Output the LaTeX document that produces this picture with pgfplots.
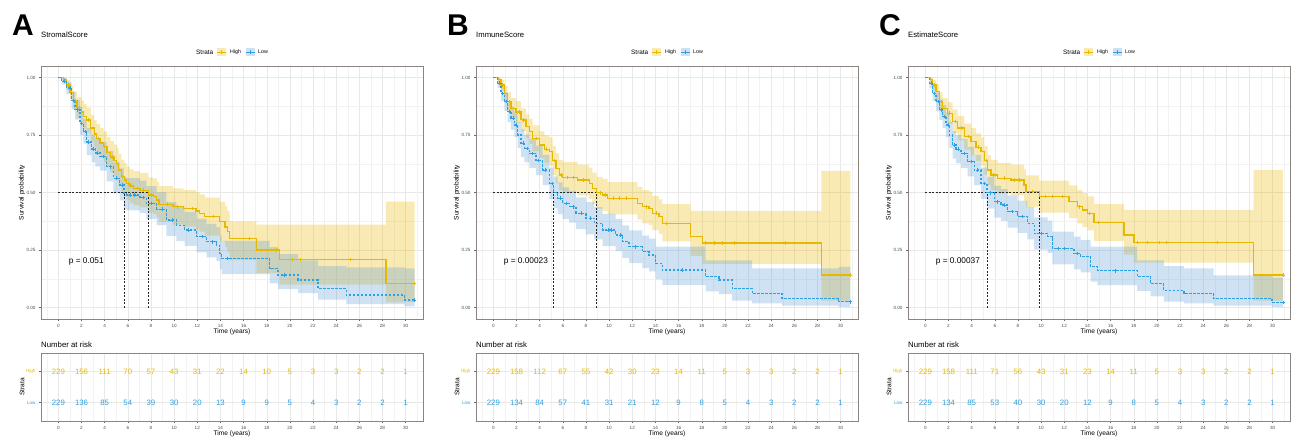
\documentclass[border=0pt]{standalone}
\usepackage{fontspec}
\setmainfont{Liberation Sans}
\usepackage{pgfplots}
\usepackage{pgfplotstable}
\pgfplotsset{compat=1.18}

\definecolor{cyellow}{HTML}{E7B800}
\definecolor{cblue}{HTML}{2E9FDF}
\definecolor{cbband}{RGB}{95,158,215}
\definecolor{framec}{HTML}{8C8480}

\pgfplotsset{
  kmbase/.style={
    scale only axis, width=382pt, anchor=south west,
    xmin=-1.5, xmax=31.5,
    xtick={0,2,...,30}, minor xtick={-1,1,...,31},
    grid=both,
    major grid style={black!9, line width=0.45pt},
    minor grid style={black!5, line width=0.3pt},
    axis line style={framec, line width=0.7pt},
    tick style={black!60, line width=0.4pt},
    major tick length=2pt, minor tick length=0pt,
    tick align=outside, tick pos=left,
    tick label style={font=\fontsize{4.6}{5}\selectfont, text=black!70},
    /pgf/number format/assume math mode=true,
    label style={font=\fontsize{6.6}{7}\selectfont},
    xlabel={Time (years)},
  },
  kmmain/.style={
    kmbase, height=253pt,
    ymin=-0.05, ymax=1.05,
    ytick={0,0.25,0.5,0.75,1}, minor ytick={0.125,0.375,0.625,0.875},
    yticklabel style={/pgf/number format/fixed, /pgf/number format/fixed zerofill, /pgf/number format/precision=2},
    ylabel={Survival probability},
    xlabel style={at={(axis description cs:0.5,-0.05)}, anchor=center},
    ylabel style={at={(axis description cs:-0.0497,0.5)}, anchor=center},
  },
  kmover/.style={kmmain, hide axis, grid=none},
  kmrisk/.style={
    kmbase, height=68pt,
    ymin=0.4, ymax=2.6,
    ytick={1,2}, yticklabels={\textcolor{cblue}{Low},\textcolor{cyellow}{High}},
    ylabel={Strata},
    xlabel style={at={(axis description cs:0.5,-0.191)}, anchor=center},
    ylabel style={at={(axis description cs:-0.0497,0.5)}, anchor=center},
  },
  riskno/.style={draw=none, mark=none, nodes near coords, point meta=explicit symbolic,
    every node near coord/.append style={anchor=center, text=#1, font=\fontsize{7.8}{8}\selectfont}},
  cens/.style={only marks, mark=+, mark size=1.8pt, #1, mark options={line width=0.6pt}},
}

% ---------- panel A: StromalScore ----------
\pgfplotstableread{
t s lo hi m
0 1.000 1.000 1.000 nan
0.45 0.990 0.975 1.000 nan
0.7 0.968 0.945 0.990 nan
0.9 0.968 0.945 0.990 0.968
1.0 0.935 0.905 0.965 nan
1.3 0.900 0.860 0.940 nan
1.45 0.900 0.860 0.940 0.900
1.6 0.870 0.825 0.915 nan
1.8 0.870 0.825 0.915 0.870
2.0 0.850 0.800 0.900 nan
2.2 0.830 0.778 0.884 nan
2.45 0.815 0.760 0.870 nan
2.6 0.815 0.760 0.870 0.815
2.8 0.780 0.722 0.838 nan
3.1 0.755 0.695 0.816 nan
3.3 0.735 0.673 0.798 nan
3.45 0.735 0.673 0.798 0.735
3.6 0.715 0.652 0.780 nan
3.9 0.700 0.636 0.766 nan
4.0 0.700 0.636 0.766 0.700
4.2 0.675 0.610 0.742 nan
4.5 0.655 0.588 0.723 nan
4.65 0.655 0.588 0.723 0.655
4.8 0.640 0.572 0.708 nan
5.05 0.625 0.556 0.695 nan
5.2 0.598 0.528 0.668 nan
5.45 0.570 0.498 0.642 nan
5.55 0.570 0.498 0.642 0.570
5.7 0.555 0.483 0.628 nan
5.9 0.540 0.467 0.614 nan
6.05 0.540 0.467 0.614 0.540
6.2 0.528 0.454 0.602 nan
6.5 0.518 0.444 0.593 nan
6.8 0.518 0.444 0.593 0.518
7.05 0.510 0.435 0.585 nan
7.3 0.510 0.435 0.585 0.510
7.77 0.489 0.413 0.566 nan
8.0 0.489 0.413 0.566 0.489
8.2 0.482 0.406 0.560 nan
8.5 0.467 0.391 0.545 nan
8.7 0.449 0.372 0.528 nan
9.4 0.449 0.372 0.528 0.449
9.9 0.438 0.360 0.518 nan
10.3 0.438 0.360 0.518 0.438
10.8 0.430 0.352 0.510 nan
11.6 0.430 0.352 0.510 0.430
11.9 0.420 0.340 0.502 nan
12.2 0.410 0.330 0.492 nan
12.65 0.395 0.313 0.478 nan
13.4 0.395 0.313 0.478 0.395
13.95 0.373 0.288 0.460 nan
14.4 0.350 0.262 0.440 nan
14.6 0.330 0.240 0.420 nan
14.8 0.300 0.206 0.375 nan
16.5 0.300 0.206 0.375 0.300
17.1 0.250 0.150 0.360 nan
18.8 0.250 0.150 0.360 0.250
19.1 0.209 0.100 0.360 nan
20.2 0.209 0.100 0.360 0.209
20.9 0.209 0.100 0.360 0.209
25.2 0.209 0.100 0.360 0.209
28.3 0.104 0.022 0.460 nan
30.77 0.104 0.022 0.460 0.104
}\Ah
\pgfplotstableread{
t s lo hi m
0 1.000 1.000 1.000 nan
0.3 0.985 0.970 1.000 nan
0.5 0.985 0.970 1.000 0.985
0.7 0.954 0.928 0.980 nan
1.0 0.954 0.928 0.980 0.954
1.15 0.900 0.862 0.938 nan
1.3 0.900 0.862 0.938 0.900
1.45 0.860 0.817 0.903 nan
1.6 0.860 0.817 0.903 0.860
1.87 0.800 0.750 0.850 nan
2.0 0.800 0.750 0.850 0.800
2.16 0.765 0.712 0.820 nan
2.3 0.765 0.712 0.820 0.765
2.44 0.720 0.663 0.780 nan
2.6 0.720 0.663 0.780 0.720
2.88 0.690 0.631 0.752 nan
3.0 0.690 0.631 0.752 0.690
3.2 0.672 0.612 0.735 nan
3.4 0.672 0.612 0.735 0.672
3.6 0.656 0.595 0.720 nan
3.9 0.656 0.595 0.720 0.656
4.17 0.612 0.548 0.680 nan
4.5 0.612 0.548 0.680 0.612
4.75 0.562 0.496 0.633 nan
5.0 0.562 0.496 0.633 0.562
5.3 0.533 0.466 0.605 nan
5.5 0.533 0.466 0.605 0.533
5.67 0.495 0.428 0.568 nan
5.9 0.489 0.422 0.562 nan
6.2 0.489 0.422 0.562 0.489
6.6 0.489 0.422 0.562 0.489
7.05 0.479 0.411 0.552 nan
7.3 0.479 0.411 0.552 0.479
7.6 0.453 0.385 0.528 nan
8.0 0.453 0.385 0.528 0.453
8.48 0.427 0.358 0.502 nan
9.0 0.427 0.358 0.502 0.427
9.34 0.380 0.311 0.458 nan
9.8 0.380 0.311 0.458 0.380
10.2 0.358 0.289 0.436 nan
10.9 0.337 0.268 0.415 nan
11.2 0.337 0.268 0.415 0.337
11.94 0.308 0.240 0.386 nan
12.4 0.308 0.240 0.386 0.308
12.8 0.286 0.218 0.364 nan
13.3 0.286 0.218 0.364 0.286
13.66 0.271 0.203 0.349 nan
13.95 0.235 0.167 0.312 nan
14.1 0.213 0.145 0.290 nan
14.6 0.213 0.145 0.290 0.213
18.26 0.170 0.105 0.262 nan
18.98 0.141 0.080 0.232 nan
19.5 0.141 0.080 0.232 0.141
20.71 0.119 0.062 0.205 nan
22.43 0.083 0.034 0.180 nan
24.88 0.054 0.015 0.175 nan
29.91 0.032 0.005 0.170 nan
30.77 0.032 0.005 0.170 0.032
}\Al
\pgfplotstableread{
t h l
0 229 229
2 156 136
4 111 85
6 70 54
8 57 39
10 43 30
12 31 20
14 22 13
16 14 9
18 10 9
20 5 5
22 3 4
24 3 3
26 2 2
28 2 2
30 1 1
}\Ar

% ---------- panel B: ImmuneScore ----------
\pgfplotstableread{
t s lo hi m
0 1.000 1.000 1.000 nan
0.4 0.990 0.975 1.000 nan
0.66 0.968 0.945 0.990 nan
0.8 0.968 0.945 0.990 0.968
0.95 0.930 0.897 0.963 nan
1.24 0.895 0.855 0.935 nan
1.4 0.895 0.855 0.935 0.895
1.52 0.866 0.822 0.910 nan
1.95 0.850 0.804 0.897 nan
2.2 0.850 0.804 0.897 0.850
2.39 0.816 0.766 0.866 nan
2.6 0.816 0.766 0.866 0.816
2.82 0.787 0.735 0.840 nan
3.10 0.765 0.711 0.820 nan
3.39 0.735 0.679 0.792 nan
3.7 0.735 0.679 0.792 0.735
3.97 0.707 0.649 0.766 nan
4.40 0.688 0.628 0.748 nan
4.6 0.688 0.628 0.748 0.688
4.83 0.678 0.617 0.740 nan
5.11 0.640 0.577 0.703 nan
5.25 0.640 0.577 0.703 0.640
5.40 0.605 0.540 0.670 nan
5.69 0.576 0.510 0.642 nan
5.85 0.576 0.510 0.642 0.576
5.98 0.566 0.500 0.633 nan
6.4 0.566 0.500 0.633 0.566
6.9 0.566 0.500 0.633 0.566
7.27 0.554 0.487 0.621 nan
7.8 0.554 0.487 0.621 0.554
8.28 0.540 0.472 0.608 nan
8.56 0.518 0.450 0.586 nan
8.91 0.499 0.430 0.568 nan
9.2 0.499 0.430 0.568 0.499
9.43 0.489 0.420 0.559 nan
9.65 0.489 0.420 0.559 0.489
9.86 0.475 0.405 0.545 nan
10.4 0.475 0.405 0.545 0.475
10.9 0.475 0.405 0.545 0.475
11.5 0.475 0.405 0.545 0.475
12.44 0.453 0.382 0.524 nan
12.87 0.438 0.366 0.510 nan
13.2 0.438 0.366 0.510 0.438
13.45 0.431 0.358 0.504 nan
13.74 0.410 0.336 0.484 nan
14.1 0.410 0.336 0.484 0.410
14.31 0.395 0.320 0.470 nan
14.60 0.366 0.288 0.450 nan
14.9 0.366 0.288 0.450 0.366
17.04 0.308 0.225 0.420 nan
18.05 0.280 0.190 0.420 nan
18.3 0.280 0.190 0.420 0.280
19.05 0.280 0.190 0.420 0.280
19.8 0.280 0.190 0.420 0.280
20.8 0.280 0.190 0.420 0.280
25.2 0.280 0.190 0.420 0.280
28.33 0.141 0.030 0.594 nan
30.83 0.141 0.030 0.594 0.141
}\Bh
\pgfplotstableread{
t s lo hi m
0 1.000 1.000 1.000 nan
0.37 0.975 0.955 0.995 nan
0.5 0.975 0.955 0.995 0.975
0.66 0.930 0.897 0.963 nan
0.8 0.930 0.897 0.963 0.930
0.95 0.895 0.855 0.935 nan
1.1 0.895 0.855 0.935 0.895
1.24 0.852 0.806 0.898 nan
1.4 0.852 0.806 0.898 0.852
1.52 0.823 0.773 0.873 nan
1.7 0.823 0.773 0.873 0.823
1.81 0.794 0.741 0.847 nan
2.0 0.794 0.741 0.847 0.794
2.10 0.750 0.693 0.807 nan
2.39 0.714 0.654 0.774 nan
2.55 0.714 0.654 0.774 0.714
2.67 0.692 0.631 0.753 nan
2.9 0.692 0.631 0.753 0.692
3.10 0.670 0.607 0.733 nan
3.4 0.670 0.607 0.733 0.670
3.68 0.640 0.576 0.704 nan
3.9 0.640 0.576 0.704 0.640
4.25 0.598 0.532 0.664 nan
4.5 0.598 0.532 0.664 0.598
4.83 0.540 0.472 0.608 nan
5.05 0.540 0.472 0.608 0.540
5.20 0.500 0.431 0.569 nan
5.55 0.475 0.406 0.544 nan
5.8 0.475 0.406 0.544 0.475
5.98 0.453 0.384 0.522 nan
6.3 0.453 0.384 0.522 0.453
6.55 0.438 0.369 0.507 nan
6.9 0.438 0.369 0.507 0.438
7.13 0.410 0.341 0.479 nan
7.6 0.410 0.341 0.479 0.410
7.99 0.388 0.318 0.458 nan
8.4 0.388 0.318 0.458 0.388
8.71 0.366 0.296 0.436 nan
9.43 0.337 0.267 0.407 nan
9.9 0.337 0.267 0.407 0.337
10.2 0.337 0.267 0.407 0.337
10.57 0.315 0.245 0.385 nan
11.0 0.315 0.245 0.385 0.315
11.15 0.286 0.215 0.357 nan
11.72 0.264 0.193 0.335 nan
12.3 0.264 0.193 0.335 0.264
12.87 0.242 0.171 0.313 nan
13.45 0.228 0.157 0.299 nan
14.02 0.192 0.122 0.265 nan
14.60 0.163 0.098 0.265 nan
16.3 0.163 0.098 0.265 0.163
18.33 0.134 0.070 0.205 nan
19.48 0.119 0.058 0.205 nan
20.63 0.083 0.030 0.205 nan
22.36 0.061 0.018 0.170 nan
24.94 0.039 0.008 0.170 nan
29.83 0.025 0.003 0.177 nan
30.83 0.025 0.003 0.177 0.025
}\Bl
\pgfplotstableread{
t h l
0 229 229
2 158 134
4 112 84
6 67 57
8 55 41
10 42 31
12 30 21
14 23 12
16 14 9
18 11 8
20 5 5
22 3 4
24 3 3
26 2 2
28 2 2
30 1 1
}\Br

% ---------- panel C: EstimateScore ----------
\pgfplotstableread{
t s lo hi m
0 1.000 1.000 1.000 nan
0.4 0.990 0.975 1.000 nan
0.63 0.968 0.945 0.990 nan
0.8 0.968 0.945 0.990 0.968
0.92 0.938 0.905 0.970 nan
1.21 0.895 0.855 0.935 nan
1.35 0.895 0.855 0.935 0.895
1.49 0.866 0.822 0.910 nan
1.93 0.845 0.798 0.892 nan
2.1 0.845 0.798 0.892 0.845
2.36 0.809 0.758 0.860 nan
2.6 0.809 0.758 0.860 0.809
2.79 0.780 0.727 0.833 nan
3.1 0.780 0.727 0.833 0.780
3.36 0.743 0.686 0.800 nan
3.7 0.743 0.686 0.800 0.743
3.94 0.721 0.662 0.780 nan
4.37 0.697 0.637 0.757 nan
4.6 0.697 0.637 0.757 0.697
4.80 0.678 0.617 0.740 nan
5.09 0.640 0.577 0.703 nan
5.25 0.640 0.577 0.703 0.640
5.37 0.598 0.533 0.663 nan
5.66 0.576 0.510 0.642 nan
5.85 0.576 0.510 0.642 0.576
6.24 0.562 0.495 0.629 nan
6.8 0.562 0.495 0.629 0.562
7.39 0.554 0.487 0.621 nan
7.7 0.554 0.487 0.621 0.554
8.1 0.554 0.487 0.621 0.554
8.53 0.533 0.465 0.601 nan
8.68 0.505 0.436 0.574 nan
9.2 0.505 0.436 0.574 0.505
9.83 0.482 0.412 0.552 nan
10.4 0.482 0.412 0.552 0.482
11.0 0.482 0.412 0.552 0.482
11.8 0.482 0.412 0.552 0.482
12.41 0.460 0.389 0.531 nan
13.13 0.438 0.366 0.510 nan
13.3 0.438 0.366 0.510 0.438
13.56 0.424 0.351 0.497 nan
13.99 0.409 0.335 0.483 nan
14.2 0.409 0.335 0.483 0.409
14.57 0.370 0.290 0.450 nan
14.9 0.370 0.290 0.450 0.370
17.16 0.315 0.230 0.424 nan
18.02 0.282 0.195 0.424 nan
18.3 0.282 0.195 0.424 0.282
19.2 0.282 0.195 0.424 0.282
20.2 0.282 0.195 0.424 0.282
20.8 0.282 0.195 0.424 0.282
25.2 0.282 0.195 0.424 0.282
28.36 0.141 0.030 0.598 nan
30.89 0.141 0.030 0.598 0.141
}\Ch
\pgfplotstableread{
t s lo hi m
0 1.000 1.000 1.000 nan
0.34 0.975 0.955 0.995 nan
0.5 0.975 0.955 0.995 0.975
0.63 0.930 0.897 0.963 nan
0.8 0.930 0.897 0.963 0.930
0.92 0.895 0.855 0.935 nan
1.1 0.895 0.855 0.935 0.895
1.21 0.860 0.815 0.905 nan
1.35 0.860 0.815 0.905 0.860
1.49 0.830 0.780 0.880 nan
1.65 0.830 0.780 0.880 0.830
1.78 0.794 0.741 0.847 nan
1.95 0.794 0.741 0.847 0.794
2.07 0.750 0.693 0.807 nan
2.36 0.707 0.647 0.767 nan
2.5 0.707 0.647 0.767 0.707
2.64 0.688 0.627 0.749 nan
2.85 0.688 0.627 0.749 0.688
3.07 0.670 0.607 0.733 nan
3.4 0.670 0.607 0.733 0.670
3.65 0.634 0.570 0.698 nan
3.95 0.634 0.570 0.698 0.634
4.22 0.598 0.532 0.664 nan
4.5 0.598 0.532 0.664 0.598
4.80 0.540 0.472 0.608 nan
5.1 0.540 0.472 0.608 0.540
5.32 0.499 0.430 0.568 nan
5.6 0.499 0.430 0.568 0.499
5.95 0.460 0.391 0.529 nan
6.2 0.460 0.391 0.529 0.460
6.52 0.446 0.377 0.515 nan
6.8 0.446 0.377 0.515 0.446
7.10 0.417 0.347 0.487 nan
7.5 0.417 0.347 0.487 0.417
7.96 0.395 0.325 0.465 nan
8.4 0.395 0.325 0.465 0.395
8.82 0.366 0.296 0.436 nan
9.40 0.322 0.252 0.392 nan
10.0 0.322 0.252 0.392 0.322
10.55 0.308 0.238 0.378 nan
10.98 0.257 0.188 0.330 nan
11.5 0.257 0.188 0.330 0.257
12.0 0.257 0.188 0.330 0.257
12.84 0.235 0.166 0.308 nan
13.1 0.235 0.166 0.308 0.235
13.42 0.221 0.153 0.293 nan
14.28 0.177 0.112 0.265 nan
14.86 0.160 0.097 0.265 nan
16.4 0.160 0.097 0.265 0.160
18.30 0.134 0.072 0.205 nan
19.45 0.104 0.048 0.205 nan
20.60 0.075 0.026 0.180 nan
22.33 0.061 0.018 0.170 nan
24.91 0.039 0.008 0.140 nan
29.94 0.022 0.003 0.130 nan
30.89 0.022 0.003 0.130 0.022
}\Cl
\pgfplotstableread{
t h l
0 229 229
2 158 134
4 111 85
6 71 53
8 56 40
10 43 30
12 31 20
14 23 12
16 14 9
18 11 8
20 5 5
22 3 4
24 3 3
26 2 2
28 2 2
30 1 1
}\Cr

% legend key: #1 x of key (pt), #2 line colour, #3 band colour
\newcommand{\legkey}[3]{%
  \fill[#3, fill opacity=0.3] (#1,-48pt) rectangle ++(8.5pt,-8pt);
  \draw[#2, line width=0.8pt] (#1,-52pt) -- ++(8.5pt,0pt);
  \draw[#2, line width=0.6pt] ([xshift=4.25pt]#1,-50.2pt) -- ++(0pt,-3.6pt);
}

% #1 left edge (pt), #2 letter, #3 title, #4 high table, #5 low table,
% #6 median low, #7 median high, #8 p value, #9 risk table
\newcommand{\kmpanel}[9]{%
  \node[anchor=base west, font=\fontsize{30}{30}\selectfont\bfseries, inner sep=0pt] at (#1pt-29pt,-35pt) {#2};
  \node[anchor=base west, font=\fontsize{7.7}{8}\selectfont, inner sep=0pt] at (#1pt,-37.5pt) {#3};
  \node[anchor=west, font=\fontsize{6.4}{7}\selectfont, inner sep=0pt] at (#1pt+155pt,-52pt) {Strata};
  \legkey{#1pt+176pt}{cyellow}{cyellow}
  \node[anchor=west, font=\fontsize{5.3}{6}\selectfont, inner sep=0pt] at (#1pt+189pt,-52pt) {High};
  \legkey{#1pt+205pt}{cblue}{cbband}
  \node[anchor=west, font=\fontsize{5.3}{6}\selectfont, inner sep=0pt] at (#1pt+217pt,-52pt) {Low};
  % frame, grid and the band of the High group
  \begin{axis}[kmmain, at={(#1pt,-319pt)}, stack plots=y]
    \addplot[const plot, draw=none] table[x=t, y=lo] {#4};
    \addplot[const plot, draw=none, fill=cyellow, fill opacity=0.3] table[x=t, y expr=\thisrow{hi}-\thisrow{lo}] {#4} \closedcycle;
  \end{axis}
  % band of the Low group
  \begin{axis}[kmover, at={(#1pt,-319pt)}, stack plots=y]
    \addplot[const plot, draw=none] table[x=t, y=lo] {#5};
    \addplot[const plot, draw=none, fill=cbband, fill opacity=0.3] table[x=t, y expr=\thisrow{hi}-\thisrow{lo}] {#5} \closedcycle;
  \end{axis}
  % medians, curves, censoring marks
  \begin{axis}[kmover, at={(#1pt,-319pt)}]
    \addplot[black!85, line width=0.5pt, dash pattern=on 2pt off 1.5pt] coordinates {(0,0.5) (#7,0.5)};
    \addplot[black!85, line width=0.5pt, dash pattern=on 2pt off 1.5pt] coordinates {(#6,0) (#6,0.5)};
    \addplot[black!85, line width=0.5pt, dash pattern=on 2pt off 1.5pt] coordinates {(#7,0) (#7,0.5)};
    \addplot[const plot, cyellow, line width=1.3pt] table[x=t, y=s] {#4};
    \addplot[const plot, cblue, line width=1.3pt, dash pattern=on 2.5pt off 1.5pt] table[x=t, y=s] {#5};
    \addplot[cens=cyellow] table[x=t, y=m] {#4};
    \addplot[cens=cblue] table[x=t, y=m] {#5};
    \node[anchor=west, font=\fontsize{8.3}{9}\selectfont] at (axis cs:0.6,0.2) {#8};
  \end{axis}
  \node[anchor=base west, font=\fontsize{7.8}{8}\selectfont, inner sep=0pt] at (#1pt,-347pt) {Number at risk};
  \begin{axis}[kmrisk, at={(#1pt,-421pt)}]
    \addplot[riskno=cyellow] table[x=t, y expr=2, meta=h] {#9};
    \addplot[riskno=cblue] table[x=t, y expr=1, meta=l] {#9};
  \end{axis}
}

\begin{document}
\begin{tikzpicture}
  \path[use as bounding box] (0pt,0pt) rectangle (1292pt,-439pt);
  \kmpanel{41}{A}{StromalScore}{\Ah}{\Al}{5.67}{7.77}{p = 0.051}{\Ar}
  \kmpanel{476}{B}{ImmuneScore}{\Bh}{\Bl}{5.20}{8.91}{p = 0.00023}{\Br}
  \kmpanel{908}{C}{EstimateScore}{\Ch}{\Cl}{5.32}{9.83}{p = 0.00037}{\Cr}
\end{tikzpicture}
\end{document}
